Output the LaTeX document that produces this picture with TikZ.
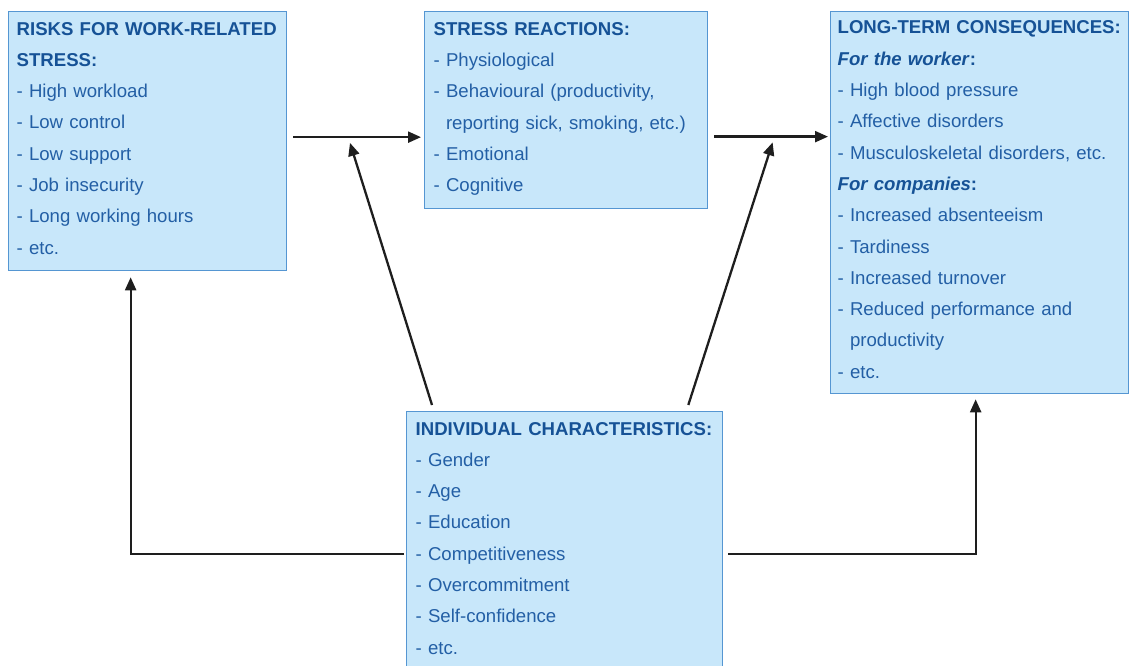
\documentclass[tikz,border=0pt]{standalone}
\usepackage{fontspec}
\setmainfont{Liberation Sans}
\usepackage{tikz}
\usetikzlibrary{arrows.meta}
\definecolor{boxfill}{RGB}{200,231,250}
\definecolor{boxline}{RGB}{85,150,210}
\definecolor{headblue}{RGB}{22,82,150}
\definecolor{textblue}{RGB}{35,95,165}
\definecolor{arrowgray}{RGB}{30,30,30}
\newcommand{\boxhead}[1]{\textbf{\color{headblue}#1}}
\newcommand{\subhead}[1]{\textbf{\color{headblue}\textit{#1}:}}
\newcommand{\contline}{\hphantom{- }}
\newcommand{\boxend}{\rule[-6pt]{0pt}{6pt}}

\begin{document}
\begin{tikzpicture}[
        x=1pt, y=-1pt,
        box/.style={rectangle, draw=boxline, line width=1.3pt, fill=boxfill, anchor=north west, align=left, text=textblue, font=\fontsize{18.6}{31.3}\selectfont},
        arrow/.style={-{Triangle[length=13pt,width=11pt]}, line width=2.3pt, draw=arrowgray}
    ]
        \useasboundingbox (0,0) rectangle (1129,666);
        \clip (0,0) rectangle (1129,666);

        \node[box, inner xsep=8pt, text width=262pt, minimum height=259pt] (risks) at (8,11)
            {\boxhead{RISKS FOR WORK-RELATED}\\\boxhead{STRESS:}\\- High workload\\- Low control\\- Low support\\- Job insecurity\\- Long working hours\\- etc.\boxend};
        \node[box, inner xsep=9pt, text width=265pt, minimum height=197pt] (reactions) at (424,11)
            {\boxhead{STRESS REACTIONS:}\\- Physiological\\- Behavioural (productivity,\\\contline reporting sick, smoking, etc.)\\- Emotional\\- Cognitive\boxend};
        \node[box, inner xsep=7pt, text width=284pt, minimum height=382pt] (conseq) at (830,11)
            {\boxhead{LONG-TERM CONSEQUENCES:}\\\subhead{For the worker}\\- High blood pressure\\- Affective disorders\\- Musculoskeletal disorders, etc.\\\subhead{For companies}\\- Increased absenteeism\\- Tardiness\\- Increased turnover\\- Reduced performance and\\\contline productivity\\- etc.\boxend};
        \node[box, inner xsep=9pt, text width=298pt, minimum height=259pt] (indiv) at (406,411)
            {\boxhead{INDIVIDUAL CHARACTERISTICS:}\\- Gender\\- Age\\- Education\\- Competitiveness\\- Overcommitment\\- Self-confidence\\- etc.\boxend};

        \coordinate (a1) at ([xshift=6pt,yshift=4pt]risks.east);
        \coordinate (a2) at ([xshift=6pt,yshift=-26.5pt]reactions.east);
        \draw[arrow, shorten >=3pt] (a1) -- coordinate[pos=0.42] (hit1) (a1 -| reactions.west);
        \draw[arrow, shorten >=2pt] (a2) -- coordinate[pos=0.52] (hit2) (a2 -| conseq.west);
        \draw[arrow, shorten >=6pt] ([xshift=26pt,yshift=6pt]indiv.north west) -- (hit1);
        \draw[arrow, shorten >=6pt] ([xshift=-35pt,yshift=6pt]indiv.north east) -- (hit2);
        \draw[arrow] ([xshift=-2pt,yshift=-12.5pt]indiv.west) -| ([xshift=-17pt,yshift=-6pt]risks.south);
        \draw[arrow] ([xshift=5pt,yshift=-12.5pt]indiv.east) -| ([xshift=-4pt,yshift=-5pt]conseq.south);
    \end{tikzpicture}
\end{document}
